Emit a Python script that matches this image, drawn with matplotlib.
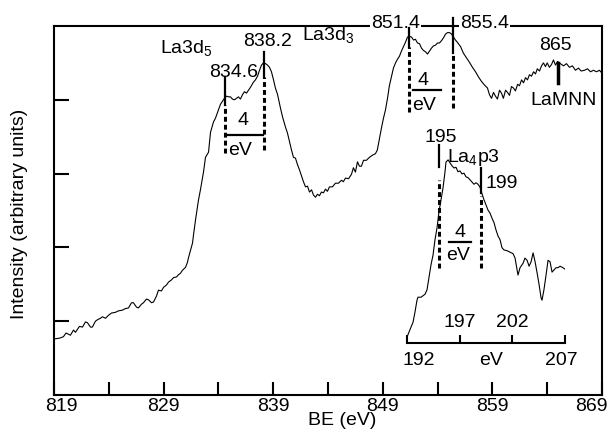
import matplotlib.pyplot as plt
from matplotlib.transforms import ScaledTranslation

plt.rcParams['font.family'] = ['Liberation Sans', 'DejaVu Sans']
plt.rcParams['mathtext.fontset'] = 'custom'
plt.rcParams['mathtext.rm'] = 'Liberation Sans'

# La3d spectrum (binding energy in eV, intensity in arbitrary units)
main_be = [819.0, 819.5, 819.86, 820.1, 820.5, 820.78, 820.96, 821.32, 821.6, 821.87, 822.05,
           822.33, 822.5, 822.78, 822.97, 823.24, 823.42, 823.7, 823.97, 824.24, 824.6,
           824.88, 825.25, 825.5, 825.8, 826.07, 826.25, 826.53, 826.7, 826.98, 827.16,
           827.44, 827.62, 827.9, 828.08, 828.35, 828.53, 828.8, 829.0, 829.26, 829.45,
           829.72, 829.9, 830.18, 830.36, 830.54, 830.72, 831.0, 831.18, 831.27, 831.45,
           831.64, 831.73, 831.91, 832.18, 832.36, 832.64, 832.82, 833.1, 833.28, 833.55,
           833.73, 833.92, 834.19, 834.37, 834.55, 834.74, 834.92, 835.1, 835.28, 835.47,
           835.65, 835.83, 836.01, 836.2, 836.38, 836.56, 836.74, 836.93, 837.2, 837.38,
           837.57, 837.75, 837.93, 838.11, 838.3, 838.48, 838.66, 838.84, 839.03, 839.2,
           839.4, 839.66, 839.85, 840.12, 840.3, 840.49, 840.67, 840.85, 841.03, 841.22,
           841.4, 841.58, 841.76, 841.95, 842.13, 842.31, 842.5, 842.67, 842.86, 843.04,
           843.22, 843.4, 843.59, 843.77, 843.95, 844.13, 844.4, 844.68, 844.96, 845.23,
           845.4, 845.6, 845.87, 846.14, 846.32, 846.5, 846.69, 846.87, 847.05, 847.24,
           847.5, 847.78, 848.06, 848.33, 848.5, 848.7, 848.88, 849.06, 849.24, 849.43,
           849.6, 849.8, 849.97, 850.16, 850.34, 850.52, 850.7, 850.89, 851.07, 851.25,
           851.43, 851.62, 851.8, 851.98, 852.16, 852.35, 852.53, 852.7, 852.9, 853.08,
           853.26, 853.44, 853.62, 853.8, 854.0, 854.17, 854.35, 854.54, 854.72, 854.9,
           855.1, 855.27, 855.45, 855.63, 855.8, 856.1, 856.36, 856.63, 856.9, 857.18,
           857.46, 857.73, 858.0, 858.28, 858.55, 858.73, 858.92, 859.1, 859.28, 859.46,
           859.65, 859.83, 860.0, 860.2, 860.38, 860.56, 860.74, 860.92, 861.1, 861.3,
           861.47, 861.66, 861.84, 862.02, 862.2, 862.38, 862.57, 862.75, 862.93, 863.1,
           863.3, 863.48, 863.66, 863.84, 864.0, 864.2, 864.4, 864.57, 864.76, 864.94,
           865.2, 865.49, 865.76, 866.03, 866.3, 866.58, 866.85, 867.1, 867.4, 867.68,
           867.95, 868.22, 868.5, 868.77, 869.0]
main_int = [0.76, 0.77, 0.79, 0.84, 0.81, 0.88, 0.85, 0.93, 0.92, 0.99, 0.98,
            0.92, 0.92, 1.00, 1.02, 1.04, 1.06, 1.04, 1.08, 1.11, 1.12,
            1.14, 1.15, 1.17, 1.18, 1.25, 1.25, 1.19, 1.18, 1.23, 1.25,
            1.30, 1.29, 1.25, 1.26, 1.34, 1.42, 1.41, 1.46, 1.49, 1.53,
            1.56, 1.59, 1.60, 1.63, 1.65, 1.69, 1.73, 1.80, 1.86, 1.96,
            2.06, 2.17, 2.37, 2.64, 2.78, 3.02, 3.22, 3.29, 3.56, 3.70,
            3.75, 3.83, 3.94, 3.98, 4.02, 4.05, 4.04, 4.04, 4.01, 4.00,
            4.02, 4.04, 4.01, 4.07, 4.11, 4.09, 4.13, 4.17, 4.24, 4.27,
            4.32, 4.40, 4.47, 4.50, 4.49, 4.47, 4.44, 4.38, 4.27, 4.16,
            4.07, 3.89, 3.77, 3.63, 3.55, 3.43, 3.32, 3.22, 3.21, 3.12,
            3.05, 2.97, 2.89, 2.82, 2.83, 2.75, 2.78, 2.71, 2.68, 2.72,
            2.70, 2.75, 2.74, 2.79, 2.76, 2.82, 2.82, 2.87, 2.87, 2.91,
            2.89, 2.94, 2.93, 2.99, 3.08, 3.02, 3.16, 3.10, 3.10, 3.18,
            3.18, 3.22, 3.25, 3.27, 3.32, 3.48, 3.62, 3.75, 3.86, 4.02,
            4.19, 4.32, 4.43, 4.50, 4.55, 4.59, 4.66, 4.72, 4.78, 4.85,
            4.86, 4.85, 4.81, 4.82, 4.77, 4.76, 4.70, 4.67, 4.65, 4.62,
            4.66, 4.70, 4.73, 4.74, 4.77, 4.77, 4.80, 4.84, 4.89, 4.91,
            4.91, 4.89, 4.85, 4.81, 4.78, 4.72, 4.63, 4.57, 4.51, 4.44,
            4.38, 4.31, 4.25, 4.20, 4.16, 4.07, 4.02, 4.10, 4.05, 4.01,
            4.13, 4.09, 4.02, 4.13, 4.10, 4.06, 4.18, 4.16, 4.12, 4.21,
            4.19, 4.27, 4.23, 4.30, 4.27, 4.34, 4.32, 4.38, 4.35, 4.42,
            4.39, 4.46, 4.50, 4.45, 4.50, 4.44, 4.48, 4.54, 4.47, 4.52,
            4.49, 4.46, 4.49, 4.44, 4.46, 4.40, 4.43, 4.39, 4.40, 4.42,
            4.38, 4.40, 4.38, 4.40, 4.36]

# La4p3 region (inset)
p3_be = [192.0, 192.28, 192.57, 192.76, 192.95, 193.04, 193.33, 193.52, 193.71, 193.9,
         194.09, 194.28, 194.47, 194.66, 194.85, 195.04, 195.23, 195.42, 195.61, 195.7,
         195.9, 196.08, 196.27, 196.46, 196.65, 196.84, 197.03, 197.22, 197.41, 197.6,
         197.79, 197.98, 198.17, 198.36, 198.55, 198.74, 198.93, 199.12, 199.31, 199.5,
         199.69, 199.88, 200.07, 200.26, 200.45, 200.64, 200.83, 201.02, 201.21, 201.5,
         201.78, 202.07, 202.26, 202.45, 202.54, 202.73, 203.02, 203.2, 203.4, 203.59,
         203.78, 203.97, 204.16, 204.35, 204.54, 204.73, 204.82, 205.0, 205.2, 205.39,
         205.58, 205.77, 205.96, 206.15, 206.34, 206.53, 206.8, 207.0]
p3_int = [0.08, 0.18, 0.28, 0.42, 0.58, 0.62, 0.62, 0.64, 0.66, 0.72,
          0.89, 1.06, 1.19, 1.40, 1.56, 1.78, 1.94, 2.10, 2.32, 2.45,
          2.48, 2.44, 2.40, 2.37, 2.38, 2.32, 2.33, 2.29, 2.30, 2.25,
          2.24, 2.21, 2.18, 2.15, 2.17, 2.15, 2.11, 2.02, 1.94, 1.87,
          1.80, 1.76, 1.69, 1.63, 1.53, 1.45, 1.40, 1.29, 1.26, 1.25,
          1.23, 1.21, 1.15, 0.99, 0.92, 1.02, 1.08, 1.15, 1.12, 1.04,
          1.10, 1.22, 1.10, 0.95, 0.79, 0.61, 0.58, 0.72, 0.92, 1.12,
          1.10, 0.96, 0.99, 1.02, 1.02, 1.04, 1.02, 1.00]

d5_peaks = [834.6, 838.2]
d3_peaks = [851.4, 855.4]
mnn_peak = 865
p3_peaks = [195, 199]
p3_ticks = [192, 197, 202, 207]

FS = 14
dots = (0, (1.6, 1.0))
box = dict(facecolor='white', edgecolor='none', pad=0.5)

fig = plt.figure(figsize=(6.14, 4.42), dpi=100)
ax = fig.add_axes([54/614, 47/442, 548/614, 369/442])
ax.plot(main_be, main_int, color='black', lw=0.8)
ax.set_xlim(819, 869)
ax.set_ylim(0, 5.0)
ax.set_xticks(range(819, 870, 10))
ax.set_xticks(range(824, 869, 10), minor=True)
ax.set_yticks([1, 2, 3, 4])
ax.set_yticklabels([])
ax.tick_params(axis='x', which='both', direction='in', length=9.5, width=1.5,
               labelsize=FS, pad=2)
ax.tick_params(axis='y', direction='in', length=11, width=1.5)
for s in ax.spines.values():
    s.set_linewidth(1.5)

lbls = ax.get_xticklabels()
lbls[0].set_transform(lbls[0].get_transform() + ScaledTranslation(0.07, 0, fig.dpi_scale_trans))
lbls[-1].set_transform(lbls[-1].get_transform() + ScaledTranslation(-0.11, 0, fig.dpi_scale_trans))

ax.set_xlabel('BE (eV)', fontsize=FS)
ax.xaxis.set_label_coords((342 - 54) / 548, -17 / 369)
ax.set_ylabel('Intensity (arbitrary units)', fontsize=FS)
ax.yaxis.set_label_coords(-26 / 548, 0.49)

# peak markers: solid tick above, dotted drop line below
ax.plot([d5_peaks[0]] * 2, [3.93, 4.31], color='black', lw=1.6, zorder=6)
ax.plot([d5_peaks[0]] * 2, [3.28, 3.93], color='black', lw=2.2, ls=dots, zorder=6)
ax.plot([d5_peaks[1]] * 2, [4.31, 4.65], color='black', lw=1.6, zorder=6)
ax.plot([d5_peaks[1]] * 2, [3.32, 4.31], color='black', lw=2.2, ls=dots, zorder=6)
ax.plot([d3_peaks[0]] * 2, [4.72, 4.97], color='black', lw=1.6, zorder=6, clip_on=False)
ax.plot([d3_peaks[0]] * 2, [3.83, 4.72], color='black', lw=2.2, ls=dots, zorder=6)
ax.plot([d3_peaks[1]] * 2, [4.63, 5.11], color='black', lw=1.6, zorder=6, clip_on=False)
ax.plot([d3_peaks[1]] * 2, [3.89, 4.63], color='black', lw=2.2, ls=dots, zorder=6)
ax.plot([mnn_peak] * 2, [4.23, 4.50], color='black', lw=2.5, zorder=6)

ax.plot([834.9, 838.1], [3.52, 3.52], color='black', lw=1.6)
ax.plot([851.8, 854.35], [4.13, 4.13], color='black', lw=1.6)

kw = dict(fontsize=FS, ha='center', va='baseline', zorder=5)
ax.text(831.09, 4.63, r'La3d$_\mathregular{5}$', **kw)
ax.text(835.38, 4.31, '834.6', **kw)
ax.text(838.48, 4.73, '838.2', **kw)
ax.text(844.0, 4.80, r'La3d$_\mathregular{3}$', **kw)
ax.text(850.16, 4.97, '851.4', bbox=box, **kw)
ax.text(858.28, 4.97, '855.4', bbox=box, **kw)
ax.text(864.72, 4.67, '865', **kw)
ax.text(865.53, 3.93, 'LaMNN', **kw)
ax.text(836.24, 3.66, '4', **kw)
ax.text(836.02, 3.25, 'eV', **kw)
ax.text(852.67, 4.20, '4', **kw)
ax.text(852.8, 3.86, 'eV', **kw)

# inset with the La4p3 line
ins = fig.add_axes([407/614, 99/442, 158/614, 223/442])
ins.patch.set_visible(False)
ins.plot(p3_be, p3_int, color='black', lw=0.8)
ins.set_xlim(192, 207)
ins.set_ylim(0, 3.02)
for side in ['top', 'left', 'right']:
    ins.spines[side].set_visible(False)
ins.spines['bottom'].set_linewidth(1.5)
ins.set_xticks(p3_ticks)
ins.set_yticks([])
ins.tick_params(axis='x', direction='in', length=6, width=1.5, labelbottom=False)

ins.plot([p3_peaks[0]] * 2, [2.38, 2.68], color='black', lw=1.6)
ins.plot([p3_peaks[0]] * 2, [1.02, 2.21], color='black', lw=2.2, ls=dots)
ins.plot([p3_peaks[1]] * 2, [2.03, 2.37], color='black', lw=1.6)
ins.plot([p3_peaks[1]] * 2, [1.02, 1.99], color='black', lw=2.2, ls=dots)
ins.plot([196.0, 198.1], [1.37, 1.37], color='black', lw=1.6)

ins.text(195.2, 2.72, '195', **kw)
ins.text(198.3, 2.45, r'La$_\mathregular{4}$p3', **kw)
ins.text(199.45, 2.10, '199', fontsize=FS, ha='left', va='baseline')
ins.text(197.03, 1.44, '4', **kw)
ins.text(196.85, 1.12, 'eV', **kw)
ins.text(p3_ticks[1], 0.22, str(p3_ticks[1]), **kw)
ins.text(p3_ticks[2], 0.22, str(p3_ticks[2]), **kw)
ins.text(193.14, -0.30, str(p3_ticks[0]), **kw)
ins.text(199.98, -0.30, 'eV', **kw)
ins.text(206.62, -0.30, str(p3_ticks[3]), **kw)

fig.savefig('out.png', dpi=100)
